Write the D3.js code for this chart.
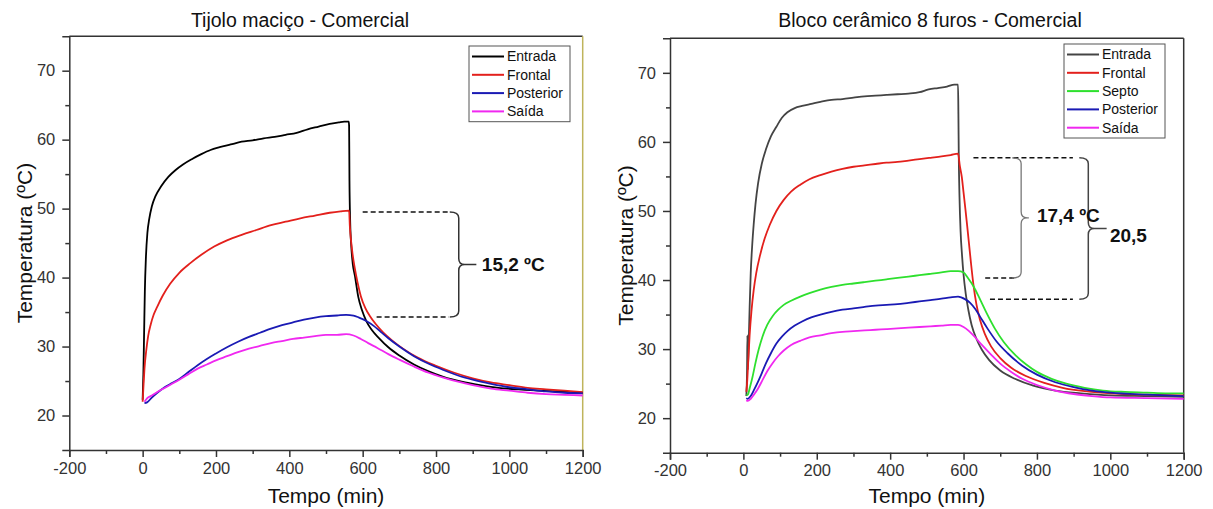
<!DOCTYPE html>
<html>
<head>
<meta charset="utf-8">
<script src="https://cdn.jsdelivr.net/npm/d3@7/dist/d3.min.js"></script>
<style>
  html, body { margin: 0; padding: 0; background: #fff; }
  svg { display: block; font-family: "Liberation Sans", Arial, sans-serif; }
</style>
</head>
<body>
<svg id="chart" width="1213" height="509"></svg>
<script>
// ---- Data: time (min) and temperature (ºC) readings ----
const xTicks = [-200, 0, 200, 400, 600, 800, 1000, 1200];
const xMinorTicks = [-100, 100, 300, 500, 700, 900, 1100];
const yTicks = [20, 30, 40, 50, 60, 70];
const yMinorTicks = [25, 35, 45, 55, 65];

const tijoloTitle = "Tijolo maciço - Comercial";
const blocoTitle = "Bloco cerâmico 8 furos - Comercial";

const tijoloNames = ["Entrada", "Frontal", "Posterior", "Saída"];
const tijoloColors = ["#000000", "#e3201c", "#1a1ab4", "#f028f0"];
const blocoNames = ["Entrada", "Frontal", "Septo", "Posterior", "Saída"];
const blocoColors = ["#444444", "#e3201c", "#2ee02e", "#1a1ab4", "#f028f0"];

const tijoloEntrada = [[0,22.3],[2,26],[4,32],[6,38],[9,43],[13,46.5],[18,48.5],[25,50.3],[35,51.8],[50,53.2],[70,54.6],[90,55.6],[110,56.4],[135,57.2],[160,57.9],[185,58.5],[210,58.9],[240,59.3],[270,59.7],[300,59.9],[330,60.2],[360,60.4],[390,60.7],[420,61.0],[450,61.5],[480,61.9],[510,62.3],[535,62.5],[550,62.6],[562,62.6],[563,62],[564,54],[566,48],[569,44.5],[573,42],[579,40.2],[588,37.2],[598,35.3],[610,33.7],[625,32.4],[645,31.2],[670,29.9],[700,28.7],[740,27.4],[780,26.4],[820,25.6],[870,24.9],[920,24.4],[970,24.0],[1020,23.8],[1080,23.6],[1140,23.5],[1200,23.3]];
const tijoloFrontal = [[0,22],[2,24],[5,26.8],[10,29.5],[15,31.5],[22,33.2],[30,34.6],[40,35.8],[55,37.4],[75,39.1],[100,40.7],[130,42.1],[160,43.3],[195,44.5],[230,45.4],[270,46.2],[310,46.9],[350,47.6],[390,48.1],[430,48.6],[470,49.0],[510,49.4],[540,49.6],[563,49.7],[565,47.5],[568,45.5],[572,43.6],[578,41.5],[586,39.3],[595,37.3],[607,35.6],[620,34.4],[635,33.3],[655,32.1],[680,30.9],[710,29.7],[750,28.4],[800,27.2],[850,26.2],[900,25.4],[950,24.8],[1000,24.4],[1050,24.0],[1100,23.8],[1150,23.6],[1200,23.4]];
const tijoloPosterior = [[5,21.8],[12,21.9],[25,22.6],[40,23.3],[60,24.1],[80,24.7],[100,25.3],[125,26.3],[150,27.3],[175,28.2],[200,29.0],[230,29.9],[260,30.7],[290,31.4],[320,32.0],[350,32.6],[380,33.1],[410,33.5],[440,33.9],[470,34.2],[500,34.4],[530,34.5],[555,34.6],[575,34.5],[590,34.2],[610,33.7],[630,33.0],[650,32.1],[670,31.2],[700,30.0],[740,28.6],[780,27.5],[820,26.6],[860,25.8],[900,25.2],[950,24.6],[1000,24.1],[1050,23.8],[1100,23.5],[1150,23.3],[1200,23.2]];
const tijoloSaida = [[5,22.0],[12,22.5],[25,22.9],[40,23.4],[60,24.0],[80,24.6],[100,25.2],[125,26.0],[150,26.8],[175,27.4],[200,28.0],[230,28.6],[260,29.2],[290,29.7],[320,30.1],[350,30.5],[380,30.8],[410,31.1],[440,31.3],[470,31.5],[500,31.7],[530,31.7],[555,31.8],[575,31.6],[595,31.1],[615,30.5],[640,29.8],[670,28.9],[700,28.1],[740,27.1],[780,26.2],[820,25.5],[860,24.9],[900,24.4],[950,23.9],[1000,23.6],[1050,23.3],[1100,23.1],[1150,23.0],[1200,22.9]];

const blocoEntrada = [[8,23.2],[10,27],[11,32],[12,27],[14,30],[17,36],[20,41],[24,45],[28,48],[33,51],[40,54],[50,56.8],[62,59],[75,60.8],[90,62.2],[105,63.5],[120,64.3],[140,64.9],[160,65.2],[185,65.5],[210,65.8],[240,66.1],[270,66.2],[300,66.4],[330,66.6],[360,66.7],[390,66.8],[420,66.9],[450,67.0],[480,67.2],[505,67.6],[530,67.8],[555,68.0],[575,68.3],[585,68.3],[586,64],[587,58],[589,52],[592,47],[596,43.5],[600,40.8],[606,38],[613,35.7],[622,33.5],[635,31.5],[650,29.9],[670,28.4],[700,26.9],[740,25.7],[790,24.7],[850,24.0],[920,23.6],[1000,23.3],[1100,23.2],[1200,23.1]];
const blocoFrontal = [[8,23.8],[10,25],[13,28],[17,32],[22,35.5],[28,38.5],[35,41],[45,43.5],[58,46],[72,48],[90,50],[110,51.6],[130,52.8],[155,53.8],[180,54.6],[210,55.2],[240,55.7],[270,56.1],[300,56.4],[330,56.6],[360,56.8],[390,57.0],[420,57.1],[450,57.3],[480,57.5],[510,57.7],[540,57.9],[565,58.1],[585,58.3],[590,56.5],[595,55],[600,52.7],[605,50.3],[610,47.8],[615,45.2],[620,42.6],[627,39.3],[635,36.5],[645,34.2],[658,32.2],[675,30.4],[700,28.7],[730,27.3],[770,26.1],[820,25.1],[870,24.4],[930,23.9],[1000,23.6],[1100,23.4],[1200,23.3]];
const blocoSepto = [[8,23.3],[12,23.4],[18,24.5],[25,26],[33,28],[42,30],[52,31.8],[65,33.5],[80,34.8],[95,35.7],[110,36.4],[130,37.0],[155,37.6],[180,38.1],[210,38.6],[240,39.0],[270,39.3],[300,39.5],[330,39.7],[360,39.9],[390,40.1],[420,40.3],[450,40.5],[480,40.7],[510,40.9],[540,41.1],[565,41.3],[585,41.3],[600,41.1],[612,40.3],[627,39.1],[645,37.2],[663,35.2],[685,33.0],[710,31.0],[740,29.2],[770,27.8],[800,26.7],[840,25.7],[880,25.0],[930,24.4],[980,24.0],[1040,23.8],[1100,23.7],[1150,23.6],[1200,23.6]];
const blocoPosterior = [[8,22.9],[12,22.8],[20,23.2],[30,24.2],[40,25.3],[50,26.5],[62,28],[75,29.4],[90,30.8],[105,31.8],[120,32.6],[140,33.4],[160,34],[185,34.6],[210,35],[240,35.4],[270,35.7],[300,35.9],[330,36.1],[360,36.3],[390,36.4],[420,36.5],[450,36.7],[480,36.9],[510,37.1],[540,37.3],[565,37.5],[585,37.6],[605,37.2],[618,36.7],[632,35.8],[645,34.7],[665,33.0],[690,31.1],[720,29.4],[760,27.6],[800,26.3],[850,25.2],[900,24.5],[950,24.0],[1000,23.7],[1100,23.4],[1200,23.2]];
const blocoSaida = [[8,22.6],[12,22.5],[20,22.8],[30,23.5],[40,24.3],[52,25.5],[65,26.8],[80,28],[95,29],[110,29.8],[130,30.6],[155,31.2],[180,31.7],[210,32],[240,32.3],[270,32.5],[300,32.6],[330,32.7],[360,32.8],[390,32.9],[420,33],[450,33.1],[480,33.2],[510,33.3],[540,33.4],[565,33.5],[585,33.5],[600,33.2],[615,32.6],[630,31.8],[650,30.6],[675,29.2],[700,27.9],[730,26.7],[760,25.7],[800,24.8],[850,24.0],[900,23.5],[950,23.2],[1000,23.0],[1100,22.9],[1200,22.8]];

// Temperature differences marked with braces
const tijoloDiffTop = 49.5, tijoloDiff = 15.2;
const blocoDiffTop = 57.7, blocoDiffInner = 17.4, blocoDiffOuter = 20.5;

// ---- Drawing ----
const svg = d3.select("#chart");
const font = '"Liberation Sans", Arial, sans-serif';
const axisColor = "#333";

function drawPanel(cfg) {
  const x = d3.scaleLinear().domain([-200, 1200]).range([cfg.left, cfg.right]);
  const y = d3.scaleLinear().domain([15, 75]).range([cfg.bottom, cfg.top]);
  const g = svg.append("g");

  // frame: top and right edges
  g.append("line").attr("x1", cfg.left).attr("x2", cfg.right).attr("y1", cfg.top).attr("y2", cfg.top)
    .attr("stroke", axisColor).attr("stroke-width", 1.5);
  g.append("line").attr("x1", cfg.right).attr("x2", cfg.right).attr("y1", cfg.top).attr("y2", cfg.bottom)
    .attr("stroke", cfg.rightEdge).attr("stroke-width", 1.5);

  // series lines
  const line = d3.line().x(d => x(d[0])).y(d => y(d[1])).curve(d3.curveMonotoneX);
  cfg.series.forEach((s, i) => {
    g.append("path").datum(s).attr("d", line).attr("fill", "none")
      .attr("stroke", cfg.colors[i]).attr("stroke-width", 1.8).attr("stroke-linejoin", "round");
  });

  const fmt = d => String(d);
  // x axis
  g.append("g").attr("transform", `translate(0,${cfg.bottom})`)
    .call(d3.axisBottom(x).tickValues(xTicks).tickSize(7).tickPadding(5).tickFormat(fmt));
  g.append("g").attr("transform", `translate(0,${cfg.bottom})`)
    .call(d3.axisBottom(x).tickValues(xMinorTicks).tickSize(4).tickFormat(""))
    .call(a => a.select(".domain").remove());
  // y axis
  g.append("g").attr("transform", `translate(${cfg.left},0)`)
    .call(d3.axisLeft(y).tickValues(yTicks).tickSize(7).tickPadding(7).tickFormat(fmt));
  g.append("g").attr("transform", `translate(${cfg.left},0)`)
    .call(d3.axisLeft(y).tickValues(yMinorTicks).tickSize(4).tickFormat(""))
    .call(a => a.select(".domain").remove());

  g.selectAll(".domain").attr("stroke", axisColor).attr("stroke-width", 1.5);
  g.selectAll(".tick line").attr("stroke", axisColor).attr("stroke-width", 1.5);
  g.selectAll(".tick text").attr("fill", "#333").style("font-size", "16.5px").style("font-family", font);

  // titles
  g.append("text").attr("x", cfg.titleX).attr("y", 27).attr("text-anchor", "middle")
    .style("font-size", "19.5px").attr("fill", "#111").text(cfg.title);
  g.append("text").attr("x", (cfg.left + cfg.right) / 2).attr("y", 503).attr("text-anchor", "middle")
    .style("font-size", "21px").attr("fill", "#111").text("Tempo (min)");
  g.append("text").attr("transform", `translate(${cfg.left - 37},${(cfg.top + cfg.bottom) / 2}) rotate(-90)`)
    .attr("text-anchor", "middle").style("font-size", "21px").attr("fill", "#111").text("Temperatura (ºC)");

  // legend
  const lg = g.append("g");
  const rowH = 18.3;
  lg.append("rect").attr("x", cfg.legendX).attr("y", cfg.legendY)
    .attr("width", 101).attr("height", cfg.names.length * rowH + 2.5)
    .attr("fill", "#fff").attr("stroke", "#555").attr("stroke-width", 1);
  cfg.names.forEach((n, i) => {
    const cy = cfg.legendY + 10.5 + i * rowH;
    lg.append("line").attr("x1", cfg.legendX + 3).attr("x2", cfg.legendX + 35)
      .attr("y1", cy).attr("y2", cy).attr("stroke", cfg.colors[i]).attr("stroke-width", 2);
    lg.append("text").attr("x", cfg.legendX + 38).attr("y", cy).attr("dy", "0.35em")
      .style("font-size", "14px").attr("fill", "#111").text(n);
  });

  return { g, x, y };
}

function dashed(g, x1, x2, yy) {
  g.append("line").attr("x1", x1).attr("x2", x2).attr("y1", yy).attr("y2", yy)
    .attr("stroke", "#111").attr("stroke-width", 1.5).attr("stroke-dasharray", "5,3");
}

function brace(g, sx, y0, y1, ym, tipX, color, width) {
  const r = 6, w = 9;
  const p = d3.path();
  p.moveTo(sx - w, y0);
  p.quadraticCurveTo(sx, y0, sx, y0 + r);
  p.lineTo(sx, ym - r);
  p.quadraticCurveTo(sx, ym, sx + r, ym);
  p.lineTo(tipX, ym);
  p.moveTo(sx + r, ym);
  p.quadraticCurveTo(sx, ym, sx, ym + r);
  p.lineTo(sx, y1 - r);
  p.quadraticCurveTo(sx, y1, sx - w, y1);
  g.append("path").attr("d", p.toString()).attr("fill", "none")
    .attr("stroke", color).attr("stroke-width", width);
}

function label(g, xx, yy, txt) {
  g.append("text").attr("x", xx).attr("y", yy).attr("dy", "0.35em")
    .style("font-size", "19px").style("font-weight", "bold").attr("fill", "#111").text(txt);
}

// Left panel: solid brick
const left = drawPanel({
  left: 69.3, right: 582.7, top: 36.2, bottom: 450,
  title: tijoloTitle, titleX: 300, rightEdge: "#bfb45c",
  series: [tijoloEntrada, tijoloFrontal, tijoloPosterior, tijoloSaida],
  names: tijoloNames, colors: tijoloColors,
  legendX: 469, legendY: 46
});
{
  const { g, x, y } = left;
  const yTop = y(tijoloDiffTop), yBot = y(tijoloDiffTop - tijoloDiff);
  dashed(g, x(600), x(835), yTop);
  dashed(g, x(638), x(835), yBot);
  brace(g, x(862), yTop, yBot, (yTop + yBot) / 2, x(910), "#333", 1.5);
  label(g, x(925), (yTop + yBot) / 2, "15,2 ºC");
}

// Right panel: 8-hole ceramic block
const right = drawPanel({
  left: 670, right: 1183.7, top: 38.3, bottom: 452.7,
  title: blocoTitle, titleX: 930, rightEdge: axisColor,
  series: [blocoEntrada, blocoFrontal, blocoSepto, blocoPosterior, blocoSaida],
  names: blocoNames, colors: blocoColors,
  legendX: 1064, legendY: 44
});
{
  const { g, x, y } = right;
  const yTop = y(blocoDiffTop);
  const yIn = y(blocoDiffTop - blocoDiffInner);
  const yOut = y(blocoDiffTop - blocoDiffOuter);
  dashed(g, x(627), x(898), yTop);
  dashed(g, x(659), x(742), yIn);
  dashed(g, x(672), x(898), yOut);
  brace(g, x(757), yTop, yIn, (yTop + yIn) / 2, x(778), "#777", 1.3);
  brace(g, x(940), yTop, yOut, (yTop + yOut) / 2, x(990), "#444", 1.5);
  label(g, x(800), (yTop + yIn) / 2 - 3, "17,4 ºC");
  label(g, x(999), (yTop + yOut) / 2 + 7, "20,5");
}
</script>
</body>
</html>
